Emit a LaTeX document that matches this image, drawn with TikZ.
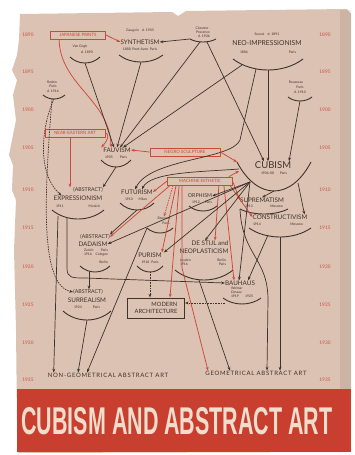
\documentclass[tikz,border=0pt]{standalone}
\usepackage{fontspec}
\setmainfont{Lato}
\newfontfamily\titlefont{Liberation Sans}
\usetikzlibrary{arrows.meta,calc}

\definecolor{paper}{RGB}{220,194,178}
\definecolor{ink}{RGB}{62,50,44}
\definecolor{redline}{RGB}{206,72,60}
\definecolor{yearred}{RGB}{204,80,68}
\definecolor{band}{RGB}{201,63,47}
\definecolor{titlecol}{RGB}{240,222,205}

\tikzset{
  mv/.style={inner sep=0pt, text=ink, font=\fontsize{6.3}{6.3}\selectfont},
  info/.style={inner sep=0pt, text=ink, align=left, font=\fontsize{3.4}{4}\selectfont},
  srcbox/.style={draw=redline, line width=0.8pt, text=redline, inner xsep=2pt,
    inner ysep=0pt, minimum height=8pt, font=\fontsize{4.4}{5}\selectfont},
  year/.style={inner sep=0pt, text=yearred, font=\fontsize{4.8}{5}\selectfont},
  arcline/.style={draw=ink, line width=0.9pt},
  link/.style={draw=ink, line width=0.7pt, -{Stealth[length=3.8pt,width=2.8pt]}},
  redlink/.style={draw=redline, line width=0.75pt, -{Stealth[length=3.8pt,width=2.8pt]}},
  dashlink/.style={link, dash pattern=on 1.5pt off 1pt},
  dotlink/.style={link, dash pattern=on 0.8pt off 0.8pt},
}

% arc under a movement: name, centre x, top y, half width, depth
\newcommand\smilearc[5]{%
  \draw[arcline] (#2-#4,#3) .. controls (#2-#4*0.45,#3+#5*1.333)
    and (#2+#4*0.45,#3+#5*1.333) .. (#2+#4,#3);
  \coordinate (#1-l) at (#2-#4,#3);
  \coordinate (#1-r) at (#2+#4,#3);
  \coordinate (#1-b) at (#2,#3+#5);}

\begin{document}
\begin{tikzpicture}[x=1pt,y=-1pt]
  \useasboundingbox (0,0) rectangle (355,455);
  \fill[white] (0,0) rectangle (355,455);
  % paper and cover band
  \fill[paper] (20,14) -- (172,12) -- (178,16) -- (186,11) -- (347,9) -- (351,14)
    -- (351,452) -- (18,453) -- (17,420) -- (16,330) -- (14,250) -- (16,200)
    -- (12,190) -- (13,165) -- (9,155) -- (12,140) -- (16,120) -- (13,95)
    -- (17,80) -- (12,70) -- (17,55) -- (19,40) -- cycle;
  \fill[black, opacity=0.07] (340,10) rectangle (351,389);
  \fill[band] (17,389) rectangle (351,452);
  \node[inner sep=0pt, text=titlecol] (title) at (177,421)
    {\resizebox{311pt}{27pt}{\titlefont\bfseries CUBISM AND ABSTRACT ART}};

  % years
  \foreach \yr/\yy in {1890/35,1895/72,1900/110,1905/148,1910/190,
                       1915/228,1920/267,1925/305,1930/343,1935/380} {
    \node[year] (yl-\yr) at (28,\yy) {\yr};
    \node[year] (yr-\yr) at (325,\yy) {\yr};
  }

  % sources
  \node[srcbox, minimum width=55pt] (jap) at (78,35) {JAPANESE PRINTS};
  \node[srcbox, minimum width=60pt] (near) at (75,133) {NEAR-EASTERN ART};
  \node[srcbox, minimum width=70pt] (negro) at (185,152) {NEGRO SCULPTURE};
  \node[srcbox, minimum width=65pt] (mach) at (200,181) {MACHINE ESTHETIC};

  % movements
  \node[info] (gau) at (140,31) {Gauguin\quad d. 1903};
  \node[mv] (synth) at (140,42) {SYNTHETISM};
  \node[info] (synth-i) at (140,49) {1888\enspace Pont-Aven\enspace Paris};
  \smilearc{synth}{141}{55}{22}{7}

  \node[info] (vg) at (80,47) {Van Gogh};
  \node[info] (vg-d) at (87,52) {d. 1890};
  \smilearc{vg}{85}{57}{15}{6}

  \node[info] (cez) at (202,28) {Cézanne};
  \node[info] (cez-p) at (203,32) {Provence};
  \node[info] (cez-d) at (204,36) {d. 1906};
  \smilearc{cez}{203}{39}{13}{3}

  \node[info] (seu) at (267,34) {Seurat\quad d. 1891};
  \node[mv, font=\fontsize{6.8}{6.8}\selectfont] (neo) at (267,43) {NEO-IMPRESSIONISM};
  \node[info, text width=56pt] (neo-i) at (268,52) {1886\hfill Paris};
  \smilearc{neo}{268}{59}{35}{11}

  \node[info] (redon) at (52,82) {Redon};
  \node[info] (redon-p) at (53,86) {Paris};
  \node[info] (redon-d) at (53,91) {d. 1916};
  \smilearc{redon}{54}{95}{11}{4}

  \node[info] (rous) at (296,82) {Rousseau};
  \node[info] (rous-p) at (300,87) {Paris};
  \node[info] (rous-d) at (300,92) {d. 1910};
  \smilearc{rous}{300}{97}{12}{4}

  \node[mv] (fauv) at (117,150) {FAUVISM};
  \node[info, text width=22pt] (fauv-i) at (116,157) {1905\hfill Paris};
  \smilearc{fauv}{116}{160}{15}{7}

  \node[mv, font=\fontsize{9.5}{9.5}\selectfont] (cub) at (273,165) {CUBISM};
  \node[info, text width=26pt] (cub-i) at (274,173) {1906-08\hfill Paris};
  \smilearc{cub}{274}{162}{37}{29}

  \node[mv, font=\fontsize{5.3}{5.3}\selectfont] (expr-a) at (88,190) {(ABSTRACT)};
  \node[mv] (expr) at (78,198) {EXPRESSIONISM};
  \node[info, text width=44pt] (expr-i) at (78,206) {1911\hfill Munich};
  \smilearc{expr}{78}{210}{26}{9}

  \node[mv] (fut) at (137,192) {FUTURISM};
  \node[info, text width=22pt] (fut-i) at (136,199) {1910\hfill Milan};
  \smilearc{fut}{137}{203}{17}{7}

  \node[mv, font=\fontsize{5.3}{5.3}\selectfont] (orph) at (200,196) {ORPHISM};
  \node[info, text width=20pt] (orph-i) at (202,202) {1912\hfill Paris};
  \smilearc{orph}{203}{206}{14}{5}

  \node[mv] (supr) at (262,200) {SUPREMATISM};
  \node[info, text width=38pt] (supr-i) at (264,206) {1913\hfill Moscow};
  \smilearc{supr}{264}{209}{24}{5}

  \node[mv] (cons) at (280,217) {CONSTRUCTIVISM};
  \node[info, text width=50pt] (cons-i) at (278,224) {1914\hfill Moscow};
  \smilearc{cons}{280}{228}{31}{9}

  \node[info] (bran) at (164,218) {Brancusi};
  \node[info] (bran-p) at (166,223) {Paris};
  \smilearc{bran}{160}{228}{13}{5}

  \node[mv, font=\fontsize{5.3}{5.3}\selectfont] (dada-a) at (95,237) {(ABSTRACT)};
  \node[mv] (dada) at (93,244) {DADAISM};
  \node[info, text width=24pt] (dada-i) at (96,256)
    {Zurich\hfill Paris\\1916\hfill Cologne\\\null\hfill Berlin};
  \smilearc{dada}{95}{266}{15}{6}

  \node[mv] (dst-a) at (210,243) {DE STIJL and};
  \node[mv] (dst) at (204,251) {NEOPLASTICISM};
  \node[info, text width=46pt] (dst-i) at (203,262) {Leyden\hfill Berlin\\1916\hfill Paris};
  \smilearc{dst}{204}{270}{29}{10}

  \node[mv] (pur) at (150,255) {PURISM};
  \node[info, text width=17pt] (pur-i) at (150,262) {1918\hfill Paris};
  \smilearc{pur}{150}{266}{13}{6}

  \node[mv] (bau) at (240,283) {BAUHAUS};
  \node[info, text width=22pt] (bau-i) at (242,292) {Weimar\hfill Dessau\\1919\hfill 1925};
  \smilearc{bau}{242}{298}{19}{6}

  \node[mv, font=\fontsize{5.3}{5.3}\selectfont] (surr-a) at (88,292) {(ABSTRACT)};
  \node[mv] (surr) at (87,300) {SURREALISM};
  \node[info, text width=26pt] (surr-i) at (87,307) {1924\hfill Paris};
  \smilearc{surr}{87}{311}{24}{9}

  \node[draw=ink, line width=0.9pt, text=ink, align=right, minimum width=57pt,
    minimum height=20pt, inner sep=2pt, font=\fontsize{5.8}{7.5}\selectfont]
    (mod) at (156,308) {MODERN\\ARCHITECTURE};

  \node[mv, font=\fontsize{6}{6}\selectfont\addfontfeature{LetterSpace=12}]
    (nongeo) at (108,375) {NON-GEOMETRICAL ABSTRACT ART};
  \node[mv, font=\fontsize{6}{6}\selectfont\addfontfeature{LetterSpace=12}]
    (geo) at (256,373) {GEOMETRICAL ABSTRACT ART};

  % the 1890s
  \draw[redlink] (jap.east) -- (synth.west);
  \draw[redlink] ([xshift=9pt]jap.south west) .. controls (60,85) and (110,100)
    .. ([xshift=-6pt]fauv.north);
  \draw[link] (vg-b) -- ([xshift=-3pt]fauv.north);
  \draw[link] (synth-b) -- (fauv.north);
  \draw[link] ([xshift=-3pt]cez-b) -- ([xshift=3pt]fauv.north);
  \draw[link] ($(neo-b)+(-26,-5)$) -- ([xshift=6pt]fauv.north);
  \draw[link] (cez-l) -- (synth.east);
  \draw[link] ([xshift=4pt]cez-b) -- ([xshift=-9pt]cub.north);
  \draw[link] (neo-b) -- (neo-b |- cub.north);
  \draw[link] (rous-b) -- ([xshift=16pt]cub.north);
  \draw[link] ($(neo-b)+(-12,-1)$) -- (240,140) .. controls (232,160) and (150,158)
    .. ([xshift=-2pt]fut.north);
  \draw[link] ($(cub-l)+(2,7)$) .. controls (200,172) and (150,172)
    .. ([xshift=5pt]fut.north);
  \draw[dashlink] (redon-b) .. controls (40,130) and (38,175)
    .. ([xshift=8pt]expr.north west);
  \draw[dashlink] ([xshift=-2pt]redon-b) .. controls (44,200) and (40,285)
    .. (surr-a.west);

  % sources into the movements
  \draw[redlink] (near.east) .. controls (108,133) and (110,138)
    .. ([xshift=-2pt]fauv.north west);
  \draw[redlink] ([xshift=-5pt]near.south) -- ([xshift=-5pt]near.south |- expr-a.north);
  \draw[redlink] (negro.west) -- (fauv.east);
  \draw[redlink] (negro.east) -- (cub-l);
  \draw[redlink] (mach.west) -- (fut.east);
  \draw[redlink] ([xshift=-4pt]mach.north east) -- ($(cub-l)+(2,9)$);
  \draw[redlink] ([yshift=-1pt]mach.east) -- (supr.west);
  \draw[redlink] ([xshift=-3pt]mach.south east) -- (cons.west);
  \draw[redlink] ([xshift=3pt]mach.south west) -- (dada-a.east);
  \draw[redlink, dash pattern=on 1.5pt off 1pt] ([xshift=6pt]mach.south west) -- (bran.north);
  \draw[redlink] ([xshift=9pt]mach.south west) -- (pur.north east);
  \draw[redlink] ([xshift=12pt]mach.south west) -- ([xshift=14pt]mod.north);
  \draw[redlink] ([xshift=15pt]mach.south west) -- (182,268) -- ([xshift=-48pt]geo.north);
  \draw[redlink] ([xshift=-14pt]mach.south east) -- ([xshift=5pt]dst-a.north);
  \draw[redlink] ([xshift=-9pt]mach.south east) -- ([xshift=-6pt]bau.north);

  % out of cubism
  \coordinate (cub-f) at ($(cub-b)+(-24,-9)$);
  \draw[link] (cub-f) -- (orph.east);
  \draw[link] (cub-f) -- (dada.east);
  \draw[link] (cub-f) -- ([xshift=2pt]pur.north east);
  \draw[link] (cub-f) -- ([xshift=-5pt]dst-a.north);
  \draw[link] (cub-f) -- ([xshift=-1pt]bau.north);
  \draw[link] (cub-b) -- (supr.north);
  \draw[link] ($(cub-b)+(24,-8)$) -- ([xshift=-3pt]cons.north east);

  % later links
  \draw[link] (fauv-b) -- (expr-a.north east);
  \draw[link] (fut-b) -- (dada-a.north east);
  \draw[link] ($(expr-b)+(-20,-3)$) -- ([xshift=6pt]nongeo.north west);
  \draw[link] ($(expr-b)+(-11,-1)$) -- (67,268) .. controls (67,278) and (72,278)
    .. (85,278) -- (bau.west);
  \coordinate (dada-s) at ($(dada-b)+(-6,-0.5)$);
  \draw[link] (dada-s) -- (dada-s |- surr-a.north);
  \draw[link] (surr-b) -- ([xshift=-30pt]nongeo.north);
  \draw[link] (bran-l) -- ([xshift=-21pt]nongeo.north);
  \draw[dotlink] (pur-b) -- (pur-b |- mod.north);
  \coordinate (bau-m) at ($(bau-l)+(2,5)$);
  \draw[dotlink] (bau-m) -- (bau-m -| mod.east);
  \draw[link] ($(dst-b)+(-5,0)$) -- ([xshift=-26pt]geo.north);
  \draw[link] ($(cons-b)+(-12,-2)$) -- ([xshift=8pt]bau.north);
  \draw[link] (cons-b) -- (cons-b |- geo.north);
  \draw[link] (supr-l) .. controls (242,255) and (268,258) .. (268,300)
    -- ([xshift=11pt]geo.north);
\end{tikzpicture}
\end{document}
